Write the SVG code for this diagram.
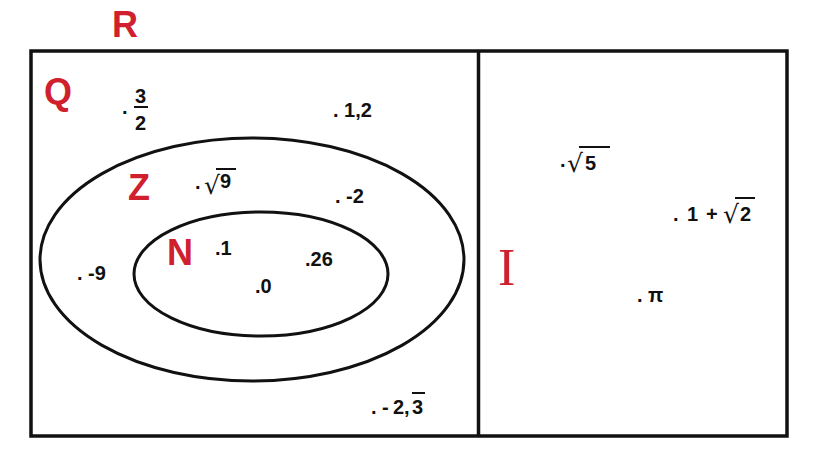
<svg xmlns="http://www.w3.org/2000/svg" width="818" height="473" viewBox="0 0 818 473">
<style>
.frame{fill:none;stroke:#111;stroke-width:3.5}
.set{fill:none;stroke:#111;stroke-width:3}
.lbl{font-family:"Liberation Sans",Arial,sans-serif;font-weight:bold;font-size:36px;fill:#d0202e}
.v{font-family:"Liberation Sans",Arial,sans-serif;font-weight:bold;font-size:20px;fill:#111}
.r{font-family:"DejaVu Sans",sans-serif;font-size:25px;fill:#111}
.bar{stroke:#111;stroke-width:2}
</style>
<rect width="818" height="473" fill="#fff"/>
<g id="setR">
<rect class="frame" x="31" y="51" width="756" height="385"/>
<line class="frame" x1="478.5" y1="51" x2="478.5" y2="436"/>
<text class="lbl" x="112" y="37">R</text>
</g>
<g id="setQ">
<text class="lbl" x="44" y="104">Q</text>
</g>
<g id="setZ">
<ellipse class="set" cx="252" cy="259.5" rx="212" ry="121.5"/>
<text class="lbl" x="128" y="200">Z</text>
</g>
<g id="setN">
<ellipse class="set" cx="261" cy="274" rx="127" ry="62"/>
<text class="lbl" x="167" y="265">N</text>
</g>
<g id="setI">
<text x="498" y="285" font-family="Liberation Serif,serif" font-size="52" fill="#d0202e">I</text>
</g>
<g id="elements">
<text class="v" x="122" y="114">.</text>
<text class="v" x="135" y="103">3</text>
<line class="bar" x1="134" y1="107" x2="148" y2="107"/>
<text class="v" x="135" y="130">2</text>
<text class="v" x="333" y="117">. 1,2</text>
<text class="v" x="195" y="189">.</text>
<text class="r" x="204" y="194">√</text>
<line class="bar" x1="216" y1="169" x2="236" y2="169"/>
<text class="v" x="220" y="188">9</text>
<text class="v" x="335" y="203">. -2</text>
<text class="v" x="77" y="280">. -9</text>
<text class="v" x="215" y="255">.1</text>
<text class="v" x="305" y="266">.26</text>
<text class="v" x="255" y="293">.0</text>
<text class="v" x="371" y="414">. -</text>
<text class="v" x="393" y="414">2,</text>
<text class="v" x="412" y="414">3</text>
<line class="bar" x1="412" y1="393" x2="425" y2="393"/>
<text class="v" x="560" y="167">.</text>
<text class="r" x="567" y="172">√</text>
<line class="bar" x1="579" y1="147" x2="610" y2="147"/>
<text class="v" x="585" y="170">5</text>
<text class="v" x="673" y="221">.</text>
<text class="v" x="687" y="221">1</text>
<text class="v" x="706" y="221">+</text>
<text class="r" x="723" y="223">√</text>
<line class="bar" x1="735" y1="198" x2="755" y2="198"/>
<text class="v" x="740" y="221">2</text>
<text class="v" x="637" y="302">. π</text>
</g>
</svg>
